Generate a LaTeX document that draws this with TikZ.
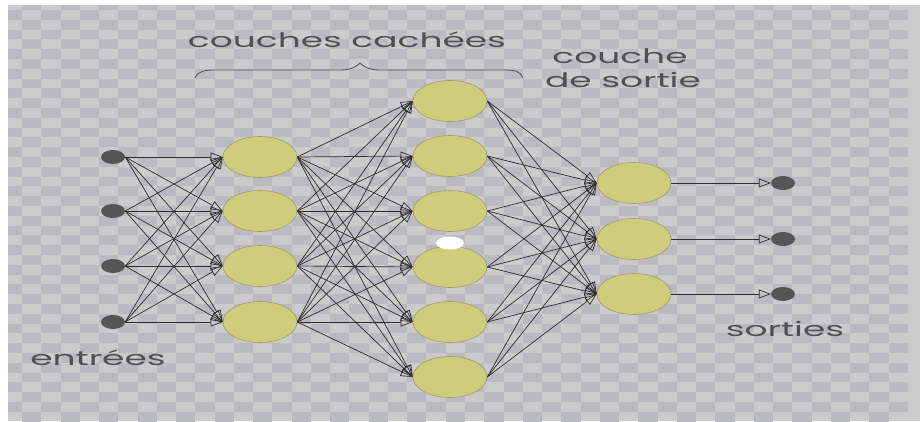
\documentclass[tikz,border=0pt]{standalone}
\usepackage{fontspec}
\newfontfamily\lblfont[FakeStretch=1.8]{Poppins}
\usetikzlibrary{shapes.geometric,arrows.meta}
\definecolor{chkL}{HTML}{CBCBCB}
\definecolor{chkD}{HTML}{BABBC1}
\definecolor{neur}{HTML}{CFCD7B}
\definecolor{neurb}{HTML}{9E9C6A}
\definecolor{dotc}{HTML}{555555}
\definecolor{txt}{HTML}{505050}
\definecolor{wirec}{HTML}{2E2E2E}
\begin{document}
\begin{tikzpicture}[x=1pt,y=-1pt,
  neuron/.style={ellipse, fill=neur, draw=neurb, line width=0.6pt, minimum width=74pt, minimum height=41pt, inner sep=0pt},
  iodot/.style={ellipse, fill=dotc, minimum width=24pt, minimum height=14pt, inner sep=0pt},
  wire/.style={draw=wirec, line width=0.7pt, -{Triangle[open,length=12pt,width=9pt]}},
  lbl/.style={text=txt, font=\lblfont\fontsize{20}{24}\selectfont, inner sep=0pt, anchor=base}
]
\useasboundingbox (0,0) rectangle (920,421);
\fill[white] (0,0) rectangle (920,421);
\fill[chkL] (8,5) rectangle (920,421);
\begin{scope}
\clip (8,5) rectangle (920,421);
\foreach \k in {0,...,46}{\foreach \m in {0,...,42}{
  \ifodd\numexpr\k+\m\relax
    \fill[chkD] ({22+19.26*(\k-1)},{10+9.8*(\m-1)}) rectangle ++(19.26,9.8);
  \fi
}}
\end{scope}
% nodes
\foreach \y [count=\i] in {157,211,266,322} {
  \node[iodot] (in\i) at (113,\y) {};
  \node[neuron] (ha\i) at (260,\y) {};
}
\foreach \y [count=\i] in {101,156,211,267,322,377} {
  \node[neuron] (hb\i) at (450,\y) {};
}
\foreach \y [count=\i] in {183,239,294} {
  \node[neuron] (o\i) at (634,\y) {};
  \node[iodot] (out\i) at (783,\y) {};
}
% connectors
\foreach \a in {1,...,4}{\foreach \b in {1,...,4}{\draw[wire] (in\a.east) -- (ha\b.west);}}
\foreach \a in {1,...,4}{\foreach \b in {1,...,6}{\draw[wire] (ha\a.east) -- (hb\b.west);}}
\foreach \a in {1,...,6}{\foreach \b in {1,...,3}{\draw[wire] (hb\a.east) -- (o\b.west);}}
\foreach \a in {1,2,3}{\draw[wire] (o\a.east) -- (out\a.west);}
% white blob
\fill[white] (450,243) ellipse [x radius=14, y radius=6.5];
% brace
\draw[txt, line width=0.8pt] (195,78) .. controls (198,71) and (205,70) .. (215,70) -- (340,70) .. controls (352,70) and (357,66) .. (360,63) .. controls (363,66) and (368,70) .. (380,70) -- (505,70) .. controls (515,70) and (520,71) .. (523,78);
% labels
\node[lbl] (tHid) at (347,47) {couches cachées};
\node[lbl] (tOut1) at (620,63) {couche};
\node[lbl] (tOut2) at (623,87) {de sortie};
\node[lbl] (tSor) at (785,336) {sorties};
\node[lbl] (tEnt) at (98,365) {entrées};
\end{tikzpicture}
\end{document}
